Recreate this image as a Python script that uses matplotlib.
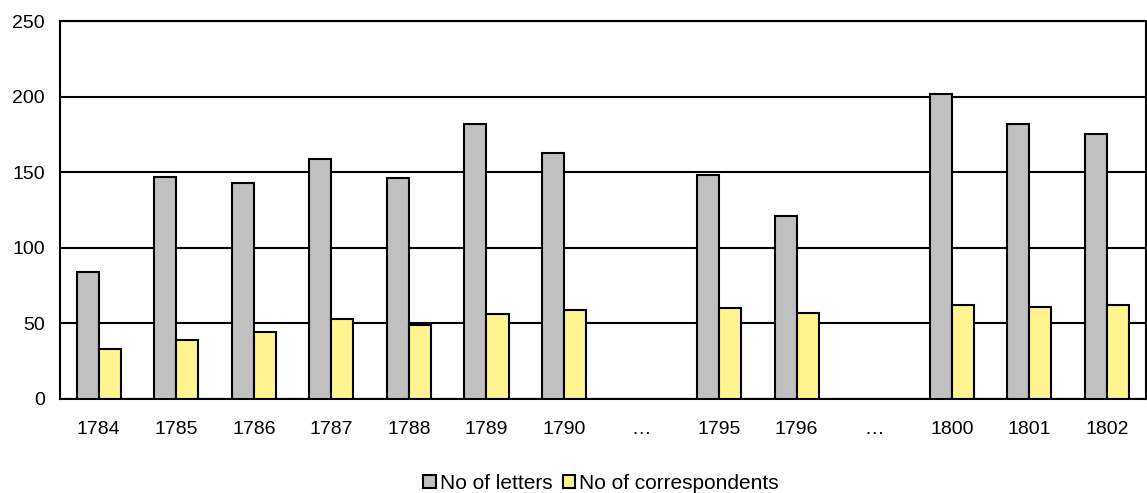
import matplotlib.pyplot as plt
import numpy as np

plt.rcParams['font.family'] = ['Liberation Sans', 'DejaVu Sans']

years = ['1784', '1785', '1786', '1787', '1788', '1789', '1790', '…',
         '1795', '1796', '…', '1800', '1801', '1802']
letters = [84, 147, 143, 159, 146, 182, 163, np.nan, 148, 121, np.nan, 202, 182, 175]
correspondents = [33, 39, 44, 53, 49, 56, 59, np.nan, 60, 57, np.nan, 62, 61, 62]

fig = plt.figure(figsize=(11.47, 4.93), dpi=100)
ax = fig.add_axes([0.0523, 0.1907, 0.9465, 0.7667])

x = np.arange(len(years))
w = 0.285
ax.bar(x - w/2, letters, w, color='#c0c0c0', edgecolor='black', linewidth=1.5,
       label='No of letters', zorder=3)
ax.bar(x + w/2, correspondents, w, color='#fff48f', edgecolor='black', linewidth=1.5,
       label='No of correspondents', zorder=3)

ax.set_xlim(-0.5, len(years) - 0.5)
ax.set_ylim(0, 250)
ax.set_yticks(range(0, 251, 50))
ax.set_xticks(x)
ax.set_xticklabels(years)
ax.yaxis.grid(True, color='black', linewidth=1.5, zorder=0)
ax.set_axisbelow(True)
for s in ax.spines.values():
    s.set_linewidth(1.5)
ax.tick_params(axis='x', length=0, pad=16, labelsize=14)
ax.tick_params(axis='y', length=0, pad=11, labelsize=14)

fig.legend(loc='center', bbox_to_anchor=(0.524, 0.02), ncol=2, frameon=False,
           fontsize=15, handlelength=0.6, handleheight=0.6,
           handletextpad=0.2, columnspacing=0.5)

fig.savefig('out.png', dpi=100)
